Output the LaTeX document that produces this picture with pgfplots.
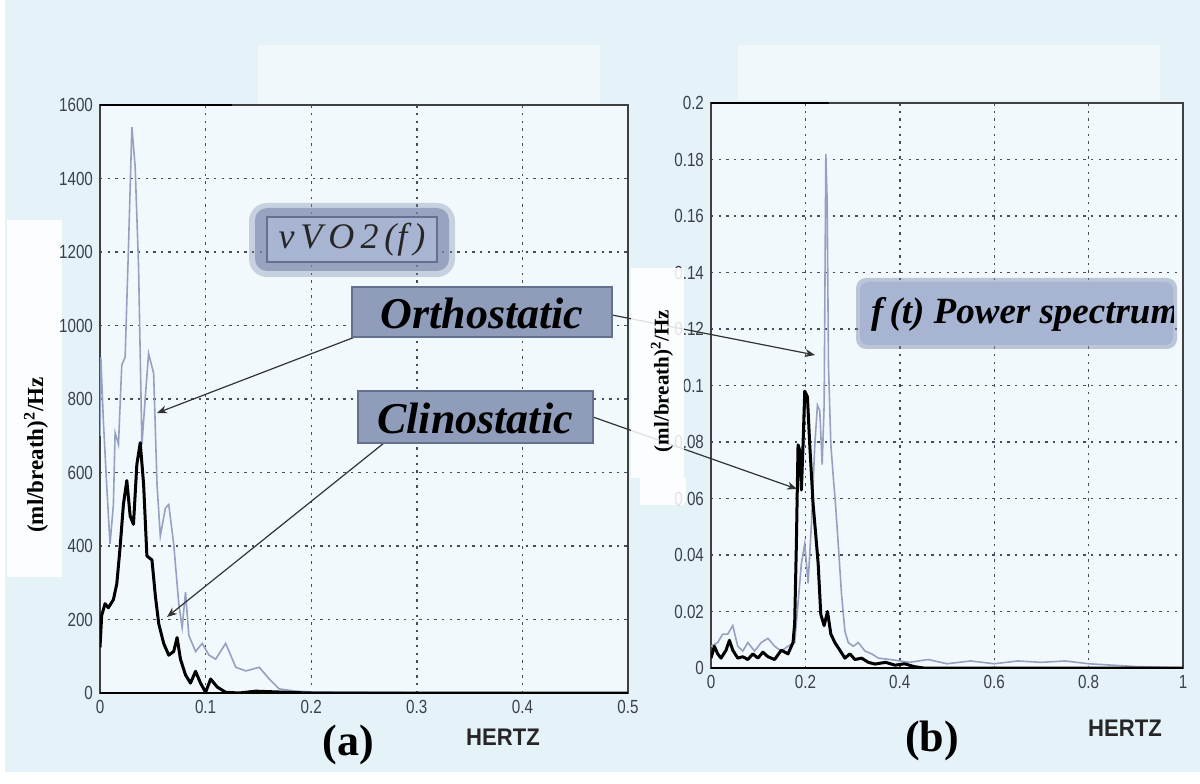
\documentclass[border=0pt]{standalone}
\usepackage{fontspec}
\setmainfont{Liberation Serif}
\setsansfont{Liberation Sans}
\newfontfamily\condsans[FakeStretch=0.8]{Liberation Sans}
\newfontfamily\condsansH[FakeStretch=0.92]{Liberation Sans}
\usepackage{pgfplots}
\pgfplotsset{compat=1.18}
\usetikzlibrary{arrows.meta}
\definecolor{bg}{RGB}{229,243,249}
\definecolor{ortho}{RGB}{150,160,192}
\definecolor{boxfill}{RGB}{143,157,187}
\definecolor{boxdraw}{RGB}{100,112,140}
\definecolor{glow}{RGB}{120,134,170}
\definecolor{lightbox}{RGB}{168,181,210}
\definecolor{gridc}{RGB}{70,76,92}
\definecolor{tickc}{RGB}{60,64,72}
\pgfplotsset{
  spec/.style={
    scale only axis, anchor=south west,
    grid=major,
    major grid style={gridc, line width=0.7pt, dash pattern=on 1.2pt off 2.6pt},
    axis line style={draw=black!75, line width=0.7pt},
    major tick length=0pt,
    tick label style={font=\condsans\fontsize{9.5}{10}\selectfont, text=tickc},
    scaled ticks=false,
    clip=true,
  },
  ortholine/.style={ortho, line width=0.8pt},
  clinoline/.style={black, line width=1.5pt, line join=round},
}
\begin{document}
\begin{tikzpicture}
\path[use as bounding box] (0,0) rectangle (600pt,391.5pt);
\begin{scope}[x=0.5pt,y=-0.5pt,shift={(0pt,391.5pt)}]
  \fill[white] (0,0) rectangle (1200,783);
  \fill[bg] (5,0) rectangle (1200,772);
  \fill[white, opacity=0.45] (258,45) rectangle (600,105);
  \fill[white, opacity=0.45] (738,45) rectangle (1160,100);
  \fill[white, opacity=0.85] (7,220) rectangle (62,577);
  \fill[white, opacity=0.5] (100,105) rectangle (628,693);
  \fill[white, opacity=0.5] (711,103) rectangle (1183,668);
\end{scope}

% ---------- panel (a)
\begin{axis}[spec, at={(50pt,45pt)}, width=264pt, height=294pt,
  xmin=0, xmax=0.5, ymin=0, ymax=1600,
  xtick={0,0.1,0.2,0.3,0.4,0.5}, xticklabels={0,0.1,0.2,0.3,0.4,0.5},
  ytick={0,200,400,600,800,1000,1200,1400,1600},
  yticklabels={0,200,400,600,800,1000,1200,1400,1600}]
\addplot[ortholine] coordinates {
(0.000,700)(0.0008,914)(0.0032,740)(0.0063,568)(0.0095,405)(0.0127,513)(0.0143,708)
(0.0175,676)(0.0206,892)(0.0238,914)(0.0270,1216)(0.0302,1540)(0.0333,1432)
(0.0365,1162)(0.0397,676)(0.0429,805)(0.0460,924)(0.0508,870)(0.0540,568)
(0.0571,427)(0.0619,503)(0.0651,513)(0.0698,405)(0.0746,243)(0.0778,178)
(0.0810,275)(0.0841,157)(0.0905,113)(0.0968,135)(0.1032,103)(0.1095,92)
(0.1190,135)(0.1286,70)(0.1381,60)(0.1508,70)(0.1603,38)(0.1698,11)
(0.1857,5)(0.2,3)(0.25,2)(0.3,1)(0.5,0)};
\addplot[clinoline] coordinates {
(0.000,124)(0.0016,211)(0.0048,243)(0.0079,232)(0.0127,254)(0.0159,297)
(0.0190,395)(0.0222,514)(0.0254,578)(0.0286,481)(0.0317,459)(0.0349,622)
(0.0381,681)(0.0413,568)(0.0444,373)(0.0492,362)(0.0524,265)(0.0556,189)
(0.0603,135)(0.0651,103)(0.0698,113)(0.0730,151)(0.0762,92)(0.0810,49)
(0.0857,27)(0.0905,59)(0.0952,27)(0.1000,2)(0.1048,38)(0.1111,16)
(0.1190,2)(0.1317,0)(0.1476,5)(0.1667,3)(0.1857,1)(0.2,0)(0.5,0)};
\draw[black, line width=1.3pt] (rel axis cs:0,0) -- (rel axis cs:1,0);
\draw[black, line width=1.3pt] (rel axis cs:0,1) -- (rel axis cs:0.25,1);
\end{axis}

% ---------- panel (b)
\begin{axis}[spec, at={(355.5pt,57.5pt)}, width=236pt, height=282.5pt,
  xmin=0, xmax=1, ymin=0, ymax=0.2,
  xtick={0,0.2,0.4,0.6,0.8,1}, xticklabels={0,0.2,0.4,0.6,0.8,1},
  ytick={0,0.02,0.04,0.06,0.08,0.1,0.12,0.14,0.16,0.18,0.2},
  yticklabels={0,0.02,0.04,0.06,0.08,0.1,0.12,0.14,0.16,0.18,0.2}]
\addplot[ortholine] coordinates {
(0,0.0077)(0.0142,0.009)(0.0248,0.012)(0.0355,0.012)(0.0461,0.015)(0.0567,0.0077)
(0.0674,0.006)(0.0780,0.009)(0.0922,0.006)(0.1064,0.009)(0.1206,0.0105)
(0.1348,0.0077)(0.1489,0.006)(0.1631,0.0077)(0.1773,0.009)(0.1915,0.037)
(0.1986,0.044)(0.2057,0.030)(0.2128,0.051)(0.2199,0.079)(0.2255,0.093)
(0.2305,0.091)(0.2355,0.072)(0.2397,0.093)(0.2433,0.182)(0.2461,0.165)
(0.2489,0.107)(0.2539,0.079)(0.2589,0.068)(0.2638,0.058)(0.2695,0.044)
(0.2766,0.026)(0.2837,0.013)(0.2908,0.009)(0.3014,0.0077)(0.3121,0.009)
(0.3262,0.006)(0.3404,0.005)(0.3546,0.0035)(0.38,0.003)(0.42,0.002)
(0.46,0.003)(0.5,0.0015)(0.55,0.0025)(0.6,0.0015)(0.65,0.0025)(0.7,0.002)
(0.75,0.0025)(0.8,0.0015)(0.85,0.001)(0.9,0.0005)(1.0,0)};
\addplot[clinoline] coordinates {
(0,0.0035)(0.0071,0.0077)(0.0142,0.005)(0.0213,0.0035)(0.0319,0.0063)
(0.0390,0.0098)(0.0461,0.0063)(0.0567,0.0035)(0.0674,0.004)(0.0780,0.003)
(0.0887,0.005)(0.0993,0.0035)(0.1099,0.0056)(0.1206,0.004)(0.1348,0.003)
(0.1489,0.0063)(0.1631,0.005)(0.1738,0.009)(0.1773,0.016)(0.1809,0.044)
(0.1844,0.079)(0.1879,0.077)(0.1915,0.063)(0.1950,0.079)(0.1986,0.098)
(0.2043,0.096)(0.2092,0.079)(0.2163,0.058)(0.2220,0.047)(0.2270,0.037)
(0.2326,0.019)(0.2397,0.015)(0.2468,0.020)(0.2539,0.012)(0.2624,0.009)
(0.2730,0.0063)(0.2837,0.0035)(0.2943,0.005)(0.3050,0.003)(0.3191,0.0035)
(0.3333,0.002)(0.3475,0.0014)(0.37,0.002)(0.39,0.001)(0.41,0.0015)
(0.43,0.0005)(0.45,0)(1.0,0)};
\draw[black, line width=1.3pt] (rel axis cs:0,0) -- (rel axis cs:1,0);
\draw[black, line width=1.3pt] (rel axis cs:0,1) -- (rel axis cs:0.25,1);
\end{axis}

\begin{scope}[x=0.5pt,y=-0.5pt,shift={(0pt,391.5pt)}]
  % arrows
  \draw[black!80, line width=0.6pt, -{Stealth[length=5pt,width=4pt]}] (355,337) -- (157,413);
  \draw[black!80, line width=0.6pt, -{Stealth[length=5pt,width=4pt]}] (384,443) -- (167,617);
  \draw[black!80, line width=0.6pt, -{Stealth[length=5pt,width=4pt]}] (612,315) -- (815,355);
  \draw[black!80, line width=0.6pt, -{Stealth[length=5pt,width=4pt]}] (593,417) -- (797,489);
  % white band over right y label
  \fill[white, opacity=0.85] (631,268) rectangle (684,478);
  \fill[white, opacity=0.85] (640,478) rectangle (686,505);
  % y labels
  \node[rotate=90, font=\bfseries\fontsize{11.5}{12}\selectfont] at (36,455) {(ml/breath)\textsuperscript{2}/Hz};
  \node[rotate=90, font=\bfseries\fontsize{10.5}{11}\selectfont] at (662,381) {(ml/breath)\textsuperscript{2}/Hz};
  % vVO2 box with glow
  \fill[glow, opacity=0.35, rounded corners=9pt] (249,203) rectangle (455,277);
  \fill[glow, opacity=0.6, rounded corners=6pt] (255,208) rectangle (449,271);
  \filldraw[fill=lightbox, draw=boxdraw, line width=0.6pt] (267,217) rectangle (437,262);
  \node[font=\itshape\fontsize{18}{20}\selectfont, text=black!85] at (352,240) {v\,V\,O\,2\,(\kern0.5pt f\,)};
  % Orthostatic / Clinostatic boxes
  \filldraw[fill=boxfill, draw=boxdraw, line width=0.6pt] (352,287) rectangle (612,337);
  \node[font=\bfseries\itshape\fontsize{22}{24}\selectfont] at (482,313) {Orthostatic};
  \filldraw[fill=boxfill, draw=boxdraw, line width=0.6pt] (358,391) rectangle (593,443);
  \node[font=\bfseries\itshape\fontsize{22}{24}\selectfont] at (475,418) {Clinostatic};
  % f(t) Power spectrum box
  \fill[glow, opacity=0.45, rounded corners=5pt] (856,278) rectangle (1177,349);
  \fill[lightbox, rounded corners=4pt] (860,282) rectangle (1173,345);
  \begin{scope}
    \clip (860,282) rectangle (1173,345);
    \node[anchor=west, font=\bfseries\itshape\fontsize{18.5}{20}\selectfont] at (864,314) {f\,(t) Power spectrum};
  \end{scope}
  % panel labels
  \node[font=\bfseries\fontsize{22}{24}\selectfont] at (348,745) {(a)};
  \node[font=\bfseries\fontsize{22}{24}\selectfont] at (932,741) {(b)};
  \node[font=\condsansH\bfseries\fontsize{12}{13}\selectfont, text=black!85] at (503,737) {HERTZ};
  \node[font=\condsansH\bfseries\fontsize{12}{13}\selectfont, text=black!85] at (1125,728) {HERTZ};
\end{scope}
\end{tikzpicture}
\end{document}
